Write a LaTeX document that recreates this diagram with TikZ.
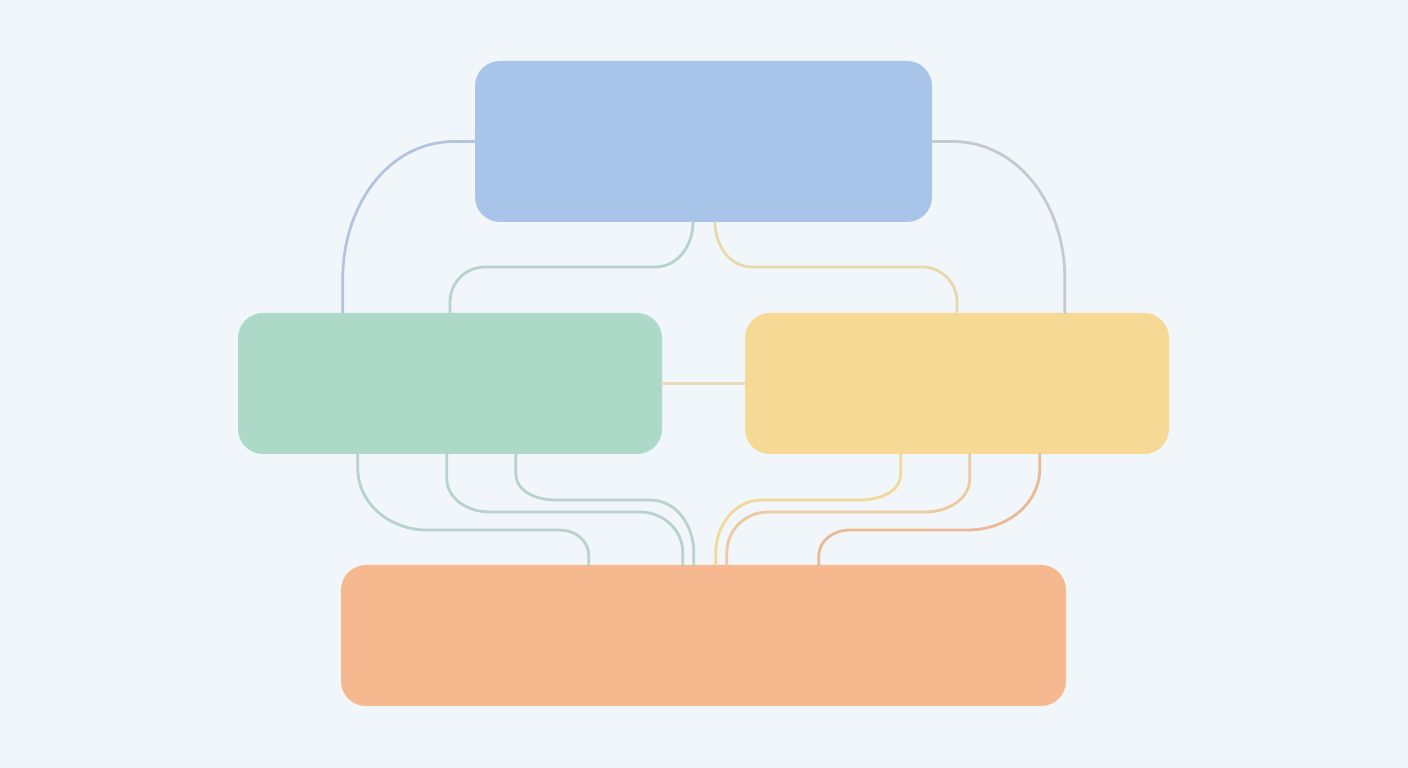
\documentclass[tikz,border=0pt]{standalone}
\usepackage{tikz}
\definecolor{bgblue}{rgb}{0.945,0.965,0.98}
\definecolor{lightblue}{rgb}{0.66,0.77,0.91}
\definecolor{lightgreen}{rgb}{0.68,0.85,0.79}
\definecolor{lightyellow}{rgb}{0.96,0.85,0.58}
\definecolor{lightorange}{rgb}{0.96,0.72,0.56}
\definecolor{linkblue}{rgb}{0.71,0.77,0.87}
\definecolor{linkgray}{rgb}{0.77,0.79,0.83}
\definecolor{linkgreen}{rgb}{0.72,0.82,0.82}
\definecolor{linkyellow}{rgb}{0.91,0.85,0.68}
\definecolor{linkbeige}{rgb}{0.92,0.85,0.72}
\definecolor{linkgold}{rgb}{0.94,0.85,0.60}
\definecolor{linkpeach}{rgb}{0.93,0.79,0.63}
\definecolor{linkorange}{rgb}{0.93,0.72,0.58}
\tikzset{
  box/.style={draw=none,rounded corners=25pt,inner sep=0pt,minimum height=141pt},
  link/.style={line width=2.8pt,line cap=round}
}

\begin{document}
\begin{tikzpicture}[x=1pt,y=1pt]
      \fill[bgblue] (0,0) rectangle (1408,768);
      \useasboundingbox (0,0) rectangle (1408,768);

      \node[box,fill=lightblue,minimum width=457pt,minimum height=161pt] (top) at (703.5,626.5) {};
      \node[box,fill=lightgreen,minimum width=424pt] (left) at (450,384.5) {};
      \node[box,fill=lightyellow,minimum width=424pt] (right) at (957,384.5) {};
      \node[box,fill=lightorange,minimum width=725pt] (bottom) at (703.5,132.5) {};

      %% top to the sides
      \draw[link,linkblue] ([xshift=105pt]left.north west) -- ++(0,35) to[out=90,in=180] ([xshift=-20pt]top.west) -- (top.west);
      \draw[link,linkgray] ([xshift=320pt]right.north west) -- ++(0,35) to[out=90,in=0] ([xshift=20pt]top.east) -- (top.east);
      \draw[link,linkgreen] ([xshift=-10.5pt]top.south) to[out=-90,in=0] (655,501) -- (485,501) to[out=180,in=90] ([yshift=11pt]left.north) -- (left.north);
      \draw[link,linkyellow] ([xshift=11.5pt]top.south) to[out=-90,in=180] (752,501) -- (922,501) to[out=0,in=90] ([yshift=11pt]right.north) -- (right.north);

      %% side to side
      \draw[link,linkbeige] (left.east) -- (right.west);

      %% sides to bottom
      \draw[link,linkgreen] ([xshift=120pt]left.south west) -- ++(0,-14) to[out=-90,in=180] (427,238) -- (560,238) to[out=0,in=90] ([xshift=248pt,yshift=9pt]bottom.north west) -- ([xshift=248pt]bottom.north west);
      \draw[link,linkgreen] ([xshift=209pt]left.south west) -- ++(0,-24) to[out=-90,in=180] (490,256) -- (640,256) to[out=0,in=90] ([xshift=342pt,yshift=12pt]bottom.north west) -- ([xshift=342pt]bottom.north west);
      \draw[link,linkgreen] ([xshift=278pt]left.south west) -- ++(0,-19) to[out=-90,in=180] (556,268) -- (650,268) to[out=0,in=90] ([xshift=353pt,yshift=12pt]bottom.north west) -- ([xshift=353pt]bottom.north west);
      \draw[link,linkgold] ([xshift=156pt]right.south west) -- ++(0,-19) to[out=-90,in=0] (860,268) -- (762,268) to[out=180,in=90] ([xshift=375pt,yshift=12pt]bottom.north west) -- ([xshift=375pt]bottom.north west);
      \draw[link,linkpeach] ([xshift=225pt]right.south west) -- ++(0,-24) to[out=-90,in=0] (925,256) -- (768,256) to[out=180,in=90] ([xshift=386pt,yshift=12pt]bottom.north west) -- ([xshift=386pt]bottom.north west);
      \draw[link,linkorange] ([xshift=295pt]right.south west) -- ++(0,-14) to[out=-90,in=0] (968,238) -- (850,238) to[out=180,in=90] ([xshift=478pt,yshift=9pt]bottom.north west) -- ([xshift=478pt]bottom.north west);
    \end{tikzpicture}
\end{document}
